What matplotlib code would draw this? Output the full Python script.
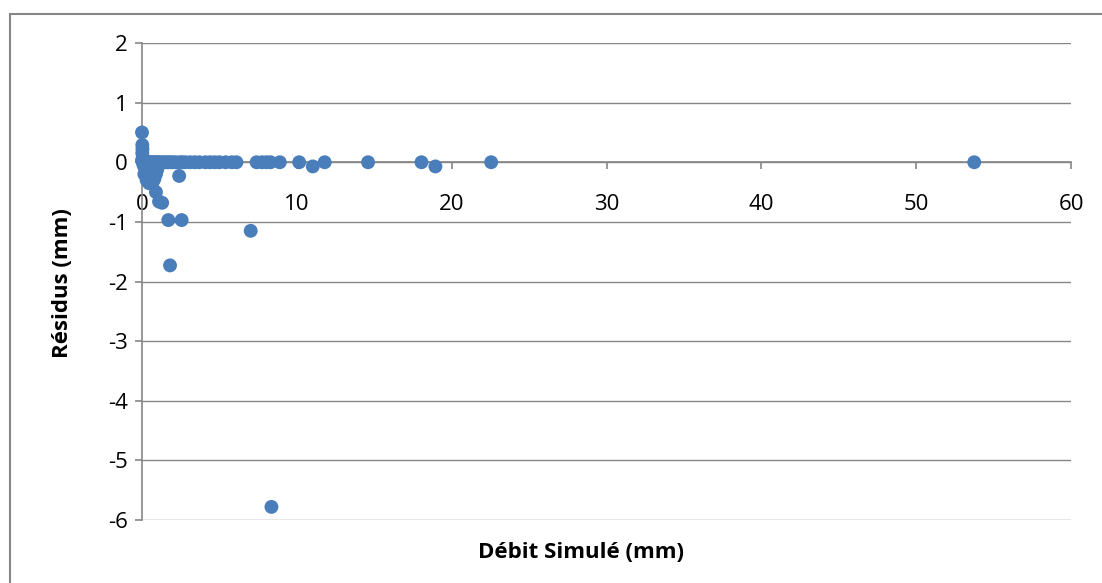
import matplotlib

matplotlib.use("Agg")
import matplotlib.pyplot as plt
from matplotlib.patches import Rectangle

# simulated discharge (mm) and residuals (mm)
debit_simule = [
    0.0, 0.02, 0.03, 0.02, 0.05, 0.0, 0.1, 0.2, 0.3, 0.4, 0.5, 0.6, 0.8, 0.9,
    1.0, 0.7, 0.95, 0.3, 0.15, 0.45,
    0.05, 0.1, 0.15, 0.2, 0.3, 0.4, 0.5, 0.6, 0.7, 0.8, 0.9, 1.0, 1.1, 1.25,
    1.4, 1.55, 1.7, 1.85, 2.0, 2.2, 2.45, 2.6, 2.8, 3.1, 3.4, 3.7, 4.1, 4.4,
    4.7, 5.0, 5.4, 5.8, 6.1,
    7.4, 7.75, 8.05, 8.3, 8.9, 10.15, 11.03, 11.8, 14.6, 18.05, 18.95, 22.55,
    53.75,
    2.4, 0.9, 1.1, 1.3, 1.7, 2.56, 7.02, 1.81, 8.36,
]
residus = [
    0.5, 0.29, 0.22, 0.15, 0.08, 0.03, -0.05, -0.1, -0.15, -0.2, -0.25, -0.3,
    -0.28, -0.2, -0.1, -0.33, -0.15, -0.3, -0.2, -0.35,
    0.0, 0.0, 0.0, 0.0, 0.0, 0.0, 0.0, 0.0, 0.0, 0.0, 0.0, 0.0, 0.0, 0.0,
    0.0, 0.0, 0.0, 0.0, 0.0, 0.0, 0.0, 0.0, 0.0, 0.0, 0.0, 0.0, 0.0, 0.0,
    0.0, 0.0, 0.0, 0.0, 0.0,
    0.0, 0.0, 0.0, 0.0, 0.0, 0.0, -0.07, 0.0, 0.0, 0.0, -0.07, 0.0,
    0.0,
    -0.23, -0.5, -0.66, -0.68, -0.97, -0.97, -1.15, -1.73, -5.78,
]

x_ticks = [0, 10, 20, 30, 40, 50, 60]
y_ticks = [2, 1, 0, -1, -2, -3, -4, -5, -6]

GREY = "#868686"
BLUE = "#4A7EBB"

plt.rcParams.update({
    "font.family": ["Open Sans", "DejaVu Sans"],
    "font.size": 16,
})

fig = plt.figure(figsize=(11.02, 5.83), dpi=100)
fig.patches.append(Rectangle((10 / 1102, -0.1), 1.2, 1.1 - 14 / 583,
                             transform=fig.transFigure, fill=False,
                             edgecolor=GREY, linewidth=1.5))
ax = fig.add_axes([142 / 1102, 1 - 520 / 583, (1071 - 142) / 1102, (520 - 43) / 583])

ax.scatter(debit_simule, residus, s=100, color=BLUE, edgecolors="none",
           zorder=3, clip_on=False)

ax.set_xlim(0, 60)
ax.set_ylim(-6, 2)
ax.set_xticks(x_ticks)
ax.set_yticks(y_ticks)
ax.set_yticklabels([str(v) for v in y_ticks])

ax.grid(axis="y", color=GREY, linewidth=1.0)
ax.set_axisbelow(True)
for side in ("top", "right"):
    ax.spines[side].set_visible(False)
ax.spines["bottom"].set_position(("data", 0))
ax.spines["left"].set_position(("data", 0))
for side in ("bottom", "left"):
    ax.spines[side].set_color(GREY)
    ax.spines[side].set_linewidth(1.2)
ax.tick_params(axis="both", direction="out", color=GREY, width=1.2, length=5,
               labelsize=16, labelcolor="black")
ax.tick_params(axis="x", pad=18)
ax.tick_params(axis="y", pad=5)

fig.text(62 / 1102, 1 - 283 / 583, "Résidus (mm)", rotation=90, ha="center",
         va="center", fontsize=16, fontweight="bold")
fig.text(581 / 1102, 1 - 552 / 583, "Débit Simulé (mm)", ha="center",
         va="center", fontsize=16, fontweight="bold")

fig.savefig("out.png", dpi=100)
